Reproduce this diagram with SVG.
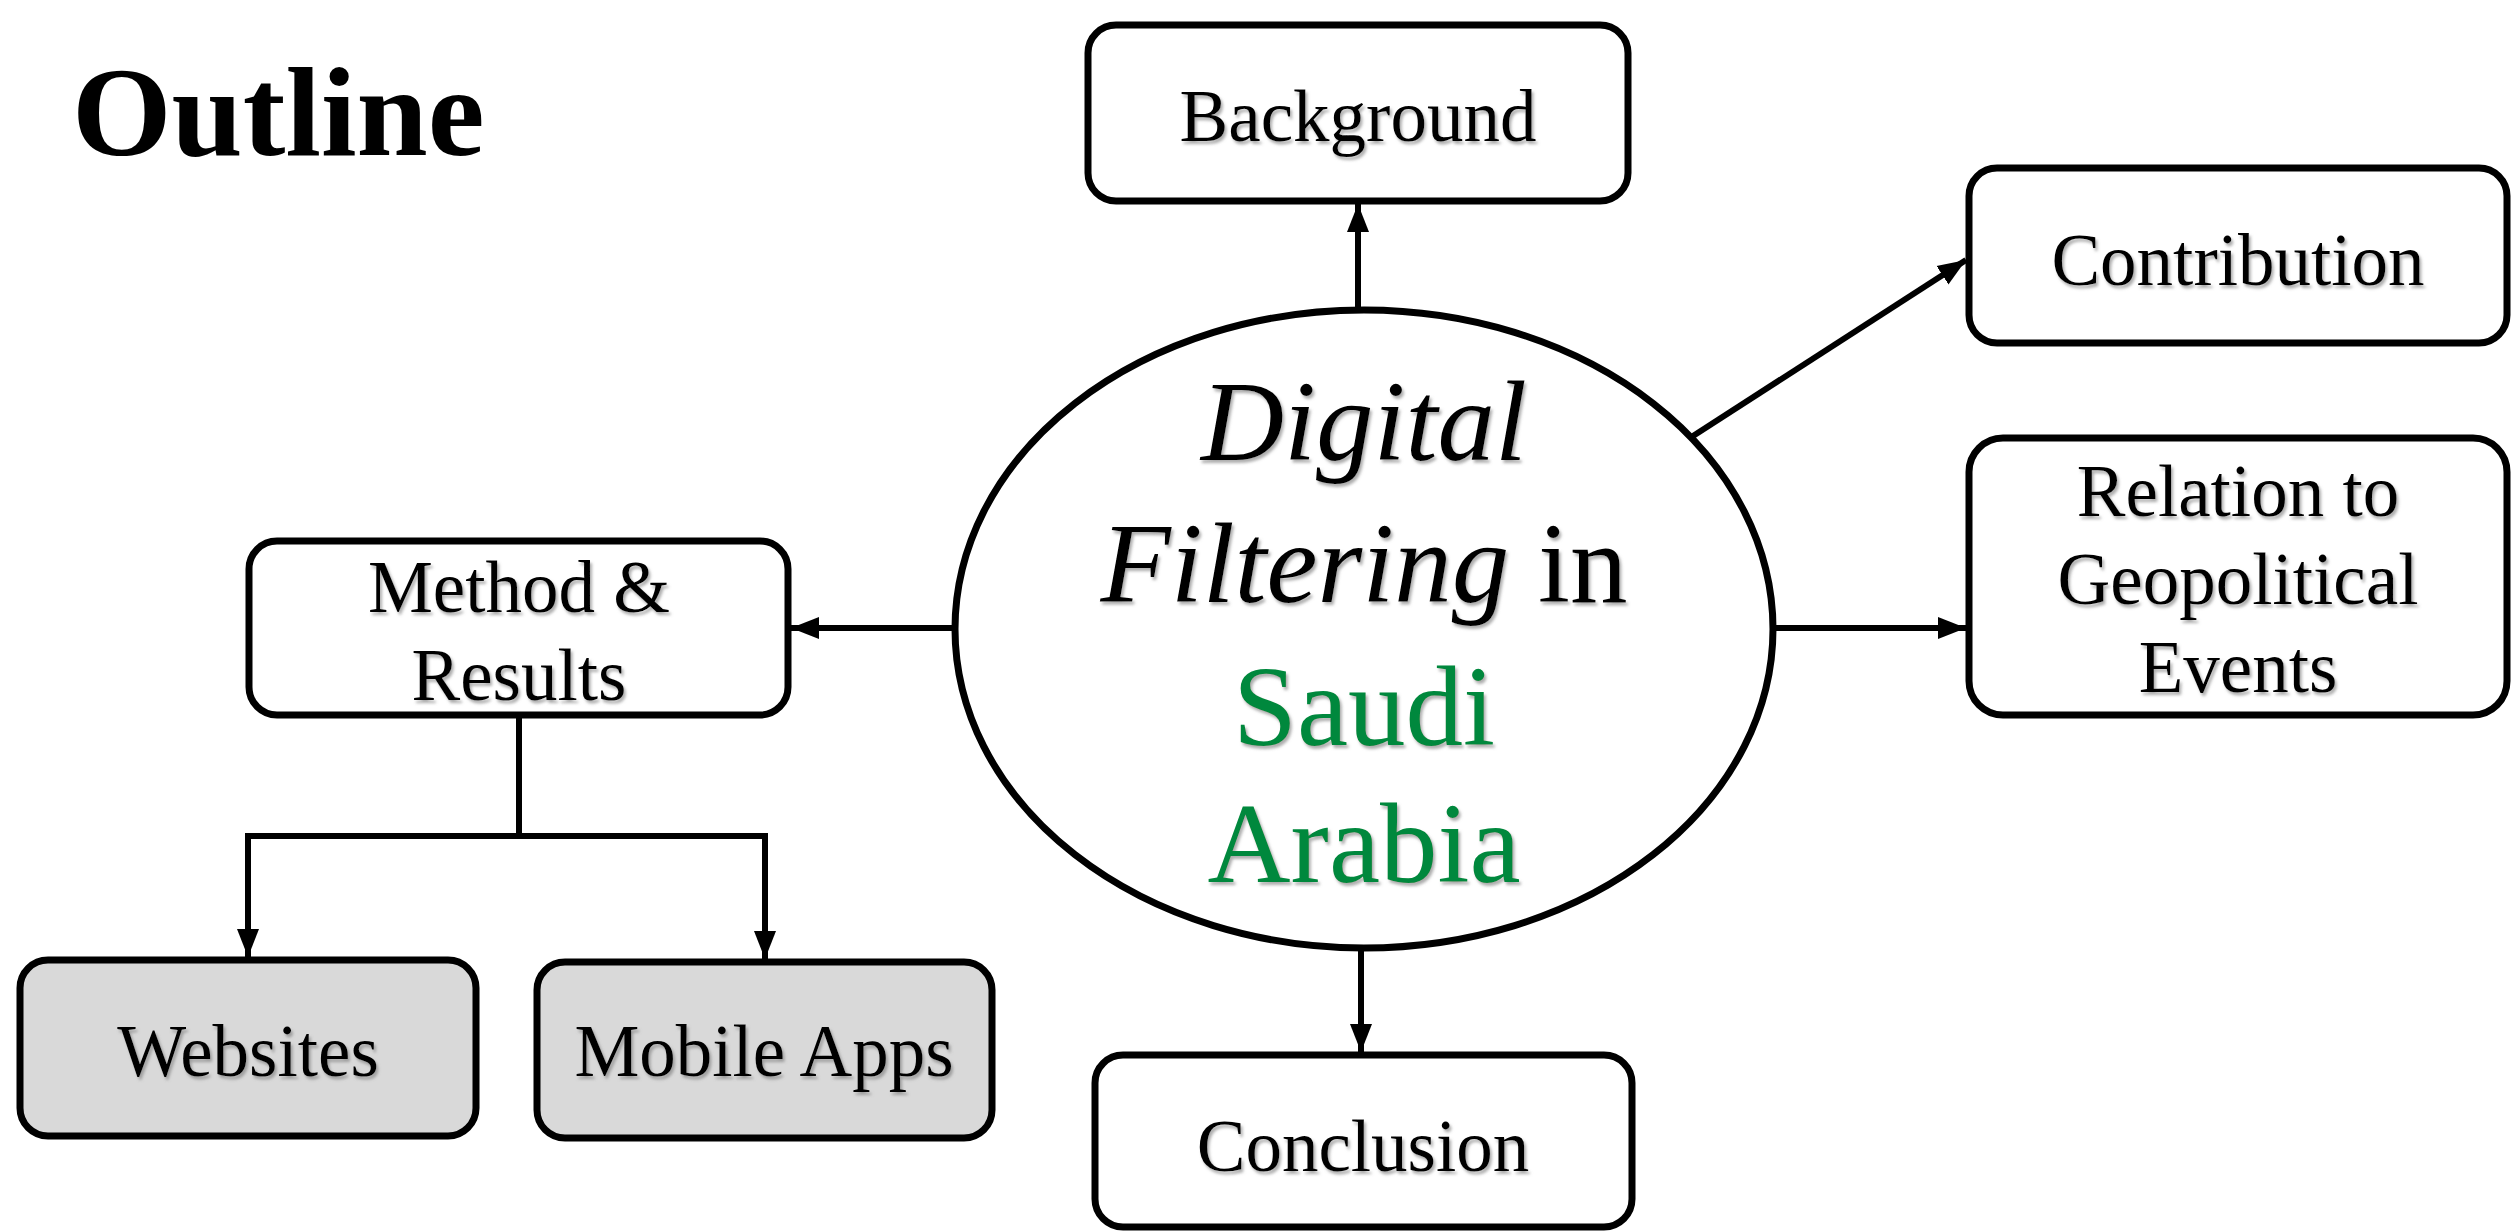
<svg xmlns="http://www.w3.org/2000/svg" width="2511" height="1231" viewBox="0 0 2511 1231">
<defs>
<style>
.box{fill:#fff;stroke:#000;stroke-width:7}
.grey{fill:#d9d9d9;stroke:#000;stroke-width:7}
.lbl{font-family:"Liberation Serif","Times New Roman",serif;font-size:73px;fill:#000;text-anchor:middle;filter:url(#sh)}
.big{font-family:"Liberation Serif","Times New Roman",serif;font-size:115px;fill:#000;text-anchor:middle;filter:url(#sh)}
.green{fill:#00883d}
.con{fill:none;stroke:#000;stroke-width:6}
</style>
<filter id="sh" x="-10%" y="-20%" width="130%" height="150%">
<feDropShadow dx="2" dy="3" stdDeviation="1.5" flood-color="#777" flood-opacity="0.6"/>
</filter>
<marker id="ah" markerUnits="userSpaceOnUse" markerWidth="30" markerHeight="24" refX="28" refY="12" orient="auto">
<path d="M0,1 L28,12 L0,23 Z" fill="#000"/>
</marker>
</defs>
<rect width="2511" height="1231" fill="#fff"/>
<text x="72" y="155" font-family="Liberation Serif,'Times New Roman',serif" font-weight="bold" font-size="128" fill="#000">Outline</text>

<g id="connectors">
<line class="con" x1="1358" y1="309" x2="1358" y2="204" marker-end="url(#ah)"/>
<line class="con" x1="1693" y1="436" x2="1966" y2="260" marker-end="url(#ah)"/>
<line class="con" x1="1773" y1="628" x2="1966" y2="628" marker-end="url(#ah)"/>
<line class="con" x1="954" y1="628" x2="791" y2="628" marker-end="url(#ah)"/>
<line class="con" x1="1361" y1="948" x2="1361" y2="1052" marker-end="url(#ah)"/>
<polyline class="con" points="519,716 519,836"/>
<polyline class="con" points="248,836 765,836 765,959" marker-end="url(#ah)"/>
<line class="con" x1="248" y1="833" x2="248" y2="957" marker-end="url(#ah)"/>
</g>

<g id="center">
<ellipse cx="1364" cy="629" rx="409" ry="319" fill="#fff" stroke="#000" stroke-width="7"/>
<text class="big" x="1364" y="460" font-style="italic">Digital</text>
<text class="big" x="1364" y="602"><tspan font-style="italic">Filtering</tspan> in</text>
<text class="big green" x="1364" y="745">Saudi</text>
<text class="big green" x="1364" y="882">Arabia</text>
</g>

<g id="background">
<rect class="box" x="1088" y="25" width="540" height="176" rx="28"/>
<text class="lbl" x="1358" y="141">Background</text>
</g>

<g id="contribution">
<rect class="box" x="1969" y="168" width="538" height="175" rx="28"/>
<text class="lbl" x="2238" y="285">Contribution</text>
</g>

<g id="relation">
<rect class="box" x="1969" y="438" width="538" height="277" rx="34"/>
<text class="lbl" x="2238" y="516">Relation to</text>
<text class="lbl" x="2238" y="604">Geopolitical</text>
<text class="lbl" x="2238" y="692">Events</text>
</g>

<g id="method">
<rect class="box" x="249" y="541" width="539" height="174" rx="28"/>
<text class="lbl" x="519" y="612">Method &amp;</text>
<text class="lbl" x="519" y="700">Results</text>
</g>

<g id="websites">
<rect class="grey" x="20" y="960" width="456" height="176" rx="28"/>
<text class="lbl" x="248" y="1076">Websites</text>
</g>

<g id="mobile">
<rect class="grey" x="537" y="962" width="455" height="176" rx="28"/>
<text class="lbl" x="764" y="1076">Mobile Apps</text>
</g>

<g id="conclusion">
<rect class="box" x="1095" y="1055" width="537" height="172" rx="28"/>
<text class="lbl" x="1363" y="1171">Conclusion</text>
</g>
</svg>
